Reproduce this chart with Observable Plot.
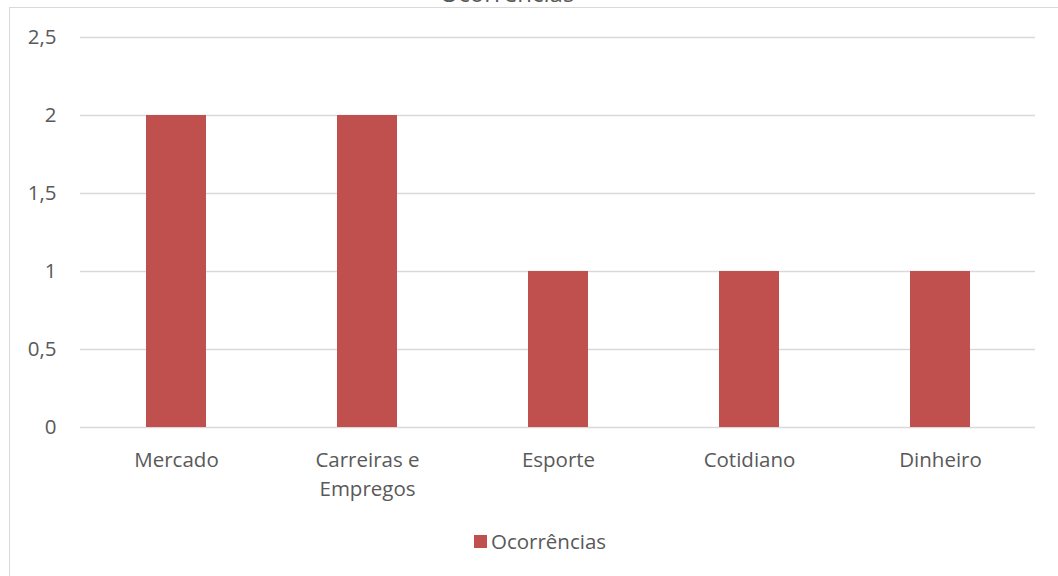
<!DOCTYPE html>
<html>
<head>
<meta charset="utf-8">
<script src="https://cdn.jsdelivr.net/npm/d3@7"></script>
<script src="https://cdn.jsdelivr.net/npm/@observablehq/plot@0.6"></script>
<style>
  body { margin: 0; background: #fff; }
  #wrap { position: relative; width: 1058px; height: 576px; overflow: hidden; background: #fff; font-family: "Open Sans", sans-serif; }
  #frame { position: absolute; left: 9px; top: 7px; width: 1100px; height: 620px; border: 1.5px solid #d9d9d9; box-sizing: border-box; }
  #title { position: absolute; left: 0; width: 1014px; top: -24px; text-align: center; font-size: 24px; color: #595959; }
  #chart { position: absolute; left: 0; top: 0; }
  #legend { position: absolute; left: 474px; top: 527px; font-size: 20.5px; color: #595959; display: flex; align-items: center; }
  #legend .sw { width: 13px; height: 13px; background: #c0504d; margin-right: 4px; }
</style>
</head>
<body>
<div id="wrap">
  <div id="frame"></div>
  <div id="title">Ocorrências</div>
  <div id="chart"></div>
  <div id="legend"><span class="sw"></span><span>Ocorrências</span></div>
</div>
<script>
const categories = ["Mercado", "Carreiras e Empregos", "Esporte", "Cotidiano", "Dinheiro"];
const values = [2, 2, 1, 1, 1];
const yTicks = [0, 0.5, 1, 1.5, 2, 2.5];
const labels = {"Carreiras e Empregos": "Carreiras e\nEmpregos"};

const data = categories.map((c, i) => ({category: c, value: values[i]}));

const chart = Plot.plot({
  width: 1058,
  height: 510,
  marginLeft: 80,
  marginRight: 23,
  marginTop: 37,
  marginBottom: 83,
  style: {fontFamily: "Open Sans, sans-serif", fontSize: "20.5px", color: "#595959", background: "transparent"},
  x: {domain: categories, paddingInner: 0.686, paddingOuter: 0.343, label: null},
  y: {domain: [0, 2.5], label: null},
  marks: [
    Plot.gridY(yTicks, {stroke: "#d9d9d9", strokeOpacity: 1, strokeWidth: 1.5}),
    Plot.barY(data, {x: "category", y: "value", fill: "#c0504d"}),
    Plot.axisY(yTicks, {tickSize: 0, tickPadding: 24, tickFormat: d => String(d).replace(".", ","), fill: "#595959", fontSize: 20.5}),
    Plot.axisX({tickSize: 0, tickPadding: 19, tickFormat: d => labels[d] || d, fill: "#595959", fontSize: 20.5, lineHeight: 1.4})
  ]
});
document.getElementById("chart").appendChild(chart);
</script>
</body>
</html>
